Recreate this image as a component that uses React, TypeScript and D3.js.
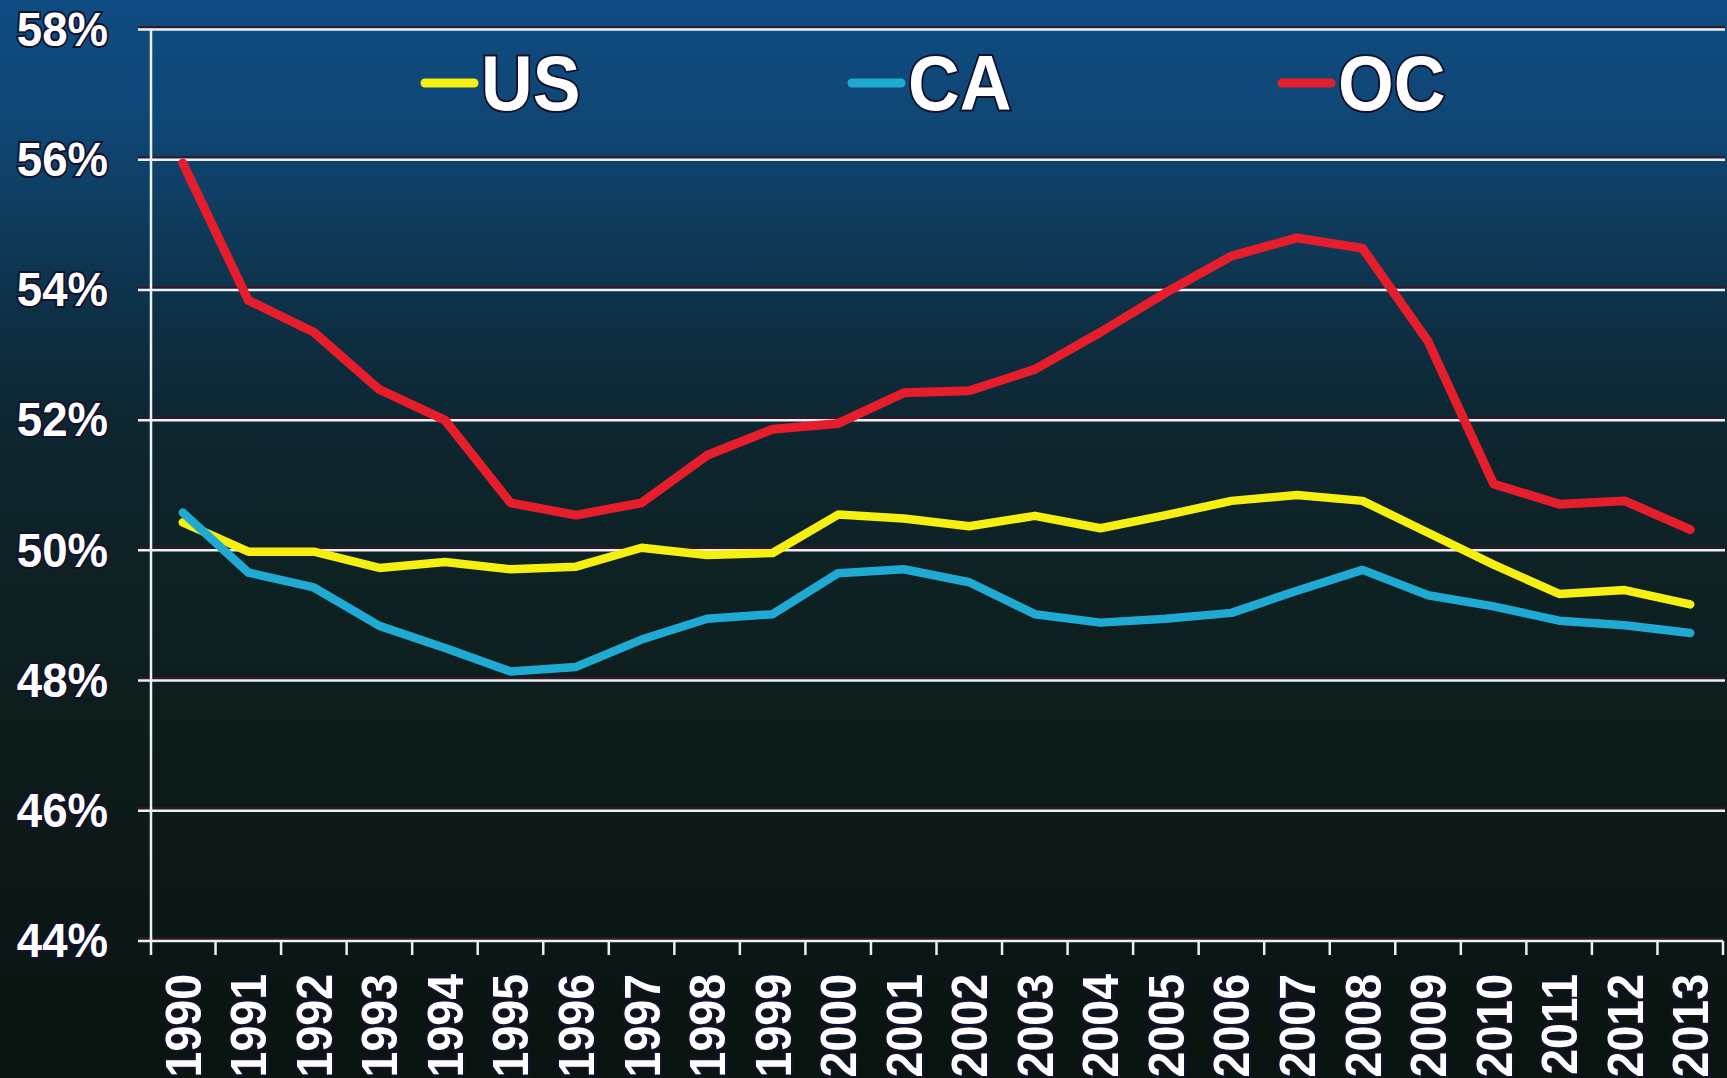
import React, { useEffect, useRef } from "react";
import * as d3 from "d3";

const years = [
  "1990", "1991", "1992", "1993", "1994", "1995", "1996", "1997",
  "1998", "1999", "2000", "2001", "2002", "2003", "2004", "2005",
  "2006", "2007", "2008", "2009", "2010", "2011", "2012", "2013",
];

const usValues = [
  50.43, 49.98, 49.98, 49.73, 49.82, 49.71, 49.75, 50.04, 49.93, 49.96,
  50.55, 50.49, 50.37, 50.53, 50.34, 50.54, 50.76, 50.85, 50.76, 50.27,
  49.78, 49.33, 49.39, 49.17,
];

const caValues = [
  50.58, 49.66, 49.43, 48.84, 48.5, 48.14, 48.21, 48.63, 48.95, 49.02,
  49.65, 49.71, 49.51, 49.02, 48.89, 48.95, 49.04, 49.38, 49.7, 49.31,
  49.14, 48.92, 48.85, 48.73,
];

const ocValues = [
  55.95, 53.84, 53.35, 52.47, 52.0, 50.73, 50.54, 50.73, 51.46, 51.86,
  51.95, 52.42, 52.45, 52.78, 53.35, 53.96, 54.52, 54.8, 54.64, 53.21,
  51.02, 50.71, 50.76, 50.32,
];

const yTicks = [44, 46, 48, 50, 52, 54, 56, 58];

const seriesNames = ["US", "CA", "OC"];
const seriesColors = ["#f6ef12", "#1eaad2", "#e61e2c"];

const W = 1727;
const H = 1078;

const App: React.FC = () => {
  const svgRef = useRef<SVGSVGElement>(null);

  useEffect(() => {
    const svg = d3.select(svgRef.current);
    svg.html("");

    const margin = { top: 29.5, right: 4, bottom: 137, left: 150 };
    const x = d3
      .scaleBand<string>()
      .domain(years)
      .range([margin.left, W - margin.right]);
    const y = d3
      .scaleLinear()
      .domain([44, 58])
      .range([H - margin.bottom, margin.top]);

    // background
    const defs = svg.append("defs");
    const grad = defs
      .append("linearGradient")
      .attr("id", "bg")
      .attr("x1", 0)
      .attr("y1", 0)
      .attr("x2", 0)
      .attr("y2", 1);
    [
      [0, "#0f4c82"],
      [0.12, "#0f4674"],
      [0.2, "#0e3c5e"],
      [0.3, "#0d2f44"],
      [0.4, "#0e2630"],
      [0.55, "#0e2122"],
      [0.75, "#0c1a18"],
      [1, "#0a1411"],
    ].forEach(([o, c]) =>
      grad.append("stop").attr("offset", o as number).attr("stop-color", c as string)
    );
    svg.append("rect").attr("width", W).attr("height", H).attr("fill", "url(#bg)");

    const g = svg.append("g");

    // gridlines (with a dark shadow line just above)
    yTicks.forEach((t) => {
      const yy = y(t);
      const x2 = t === 44 ? x.range()[1] : W - 2;
      g.append("line")
        .attr("x1", 138)
        .attr("x2", x2)
        .attr("y1", yy - 2.5)
        .attr("y2", yy - 2.5)
        .attr("stroke", "#3a1428")
        .attr("stroke-width", 2);
      g.append("line")
        .attr("x1", 138)
        .attr("x2", x2)
        .attr("y1", yy)
        .attr("y2", yy)
        .attr("stroke", "#e8f2f4")
        .attr("stroke-width", 2.5);
    });

    // y axis line
    g.append("line")
      .attr("x1", margin.left + 1)
      .attr("x2", margin.left + 1)
      .attr("y1", y(58))
      .attr("y2", y(44) + 14)
      .attr("stroke", "#e8f2f4")
      .attr("stroke-width", 2.5);

    // x ticks at band boundaries
    const bounds = years.map((yr) => x(yr) as number).concat([x.range()[1]]);
    bounds.slice(1).forEach((bx) => {
      g.append("line")
        .attr("x1", bx)
        .attr("x2", bx)
        .attr("y1", y(44))
        .attr("y2", y(44) + 14)
        .attr("stroke", "#e8f2f4")
        .attr("stroke-width", 2.5);
    });

    const font = "'Liberation Sans', Arial, sans-serif";

    // y labels
    yTicks.forEach((t) => {
      g.append("text")
        .attr("transform", `translate(108,${y(t) - 1}) scale(0.93,1)`)
        .attr("text-anchor", "end")
        .attr("dy", "0.35em")
        .attr("font-family", font)
        .attr("font-weight", "bold")
        .attr("font-size", 49)
        .attr("fill", "#ffffff")
        .attr("stroke", "#15122e")
        .attr("stroke-width", 4)
        .attr("paint-order", "stroke")
        .text(`${t}%`);
    });

    // x labels (rotated)
    years.forEach((yr) => {
      const cx = (x(yr) as number) + x.bandwidth() / 2;
      g.append("text")
        .attr("transform", `translate(${cx},974) rotate(-90) scale(0.93,1)`)
        .attr("text-anchor", "end")
        .attr("dy", "0.36em")
        .attr("font-family", font)
        .attr("font-weight", "bold")
        .attr("font-size", 50)
        .attr("fill", "#ffffff")
        .attr("stroke", "#15122e")
        .attr("stroke-width", 4)
        .attr("paint-order", "stroke")
        .text(yr);
    });

    // lines
    const line = d3
      .line<number>()
      .x((_, i) => (x(years[i]) as number) + x.bandwidth() / 2)
      .y((d) => y(d));

    [usValues, caValues, ocValues].forEach((vals, i) => {
      g.append("path")
        .datum(vals)
        .attr("fill", "none")
        .attr("stroke", seriesColors[i])
        .attr("stroke-width", i === 2 ? 9 : 8.5)
        .attr("stroke-linejoin", "round")
        .attr("stroke-linecap", "round")
        .attr("d", line);
    });

    // legend
    const legendX = [421, 848, 1278];
    seriesNames.forEach((name, i) => {
      const lx = legendX[i];
      g.append("line")
        .attr("x1", lx + 4)
        .attr("x2", lx + 53)
        .attr("y1", 83)
        .attr("y2", 83)
        .attr("stroke", seriesColors[i])
        .attr("stroke-width", 9)
        .attr("stroke-linecap", "round");
      g.append("text")
        .attr("transform", `translate(${lx + 60},110) scale(0.93,1)`)
        .attr("font-family", font)
        .attr("font-weight", "bold")
        .attr("font-size", 77)
        .attr("fill", "#ffffff")
        .attr("stroke", "#15122e")
        .attr("stroke-width", 4)
        .attr("paint-order", "stroke")
        .text(name);
    });
  }, []);

  return (
    <div style={{ position: "fixed", left: 0, top: 0, width: W, height: H }}>
      <svg ref={svgRef} width={W} height={H} style={{ display: "block" }} />
    </div>
  );
};

export default App;
